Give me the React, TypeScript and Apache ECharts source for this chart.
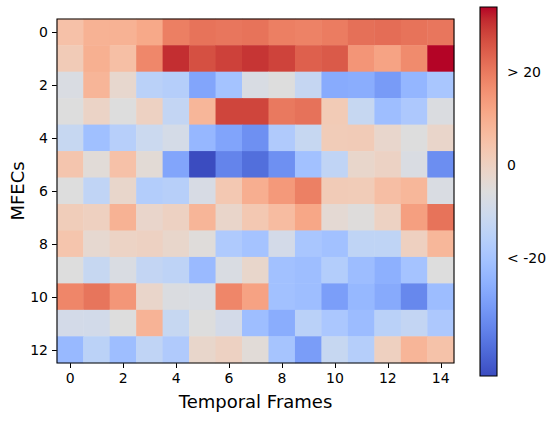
import React, { useEffect, useRef } from "react";
import * as echarts from "echarts";

const FRAME_LABELS = Array.from({ length: 15 }, (_, i) => String(i));
const MFEC_LABELS = Array.from({ length: 13 }, (_, i) => String(i));

const ROW0 = [5, 9, 9, 11, 19, 21, 20.5, 21, 19, 18.5, 19.5, 21.5, 22, 21, 20.5];
const ROW1 = [2, 9.5, 5.5, 17.7, 30.8, 26.5, 28.5, 30, 28.3, 24, 25, 15, 12.2, 17, 33.9];
const ROW2 = [-6.9, 8.2, -2.5, -15.1, -16.3, -27.8, -20.3, -7.2, -5.6, -12.3, -26.6, -26.2, -30.2, -23.8, -19.1];
const ROW3 = [-5.6, -0.9, -5.6, -0.1, -12.8, 8, 28, 28, 20, 21.2, 2.2, -12, -21.5, -18.3, -6.6];
const ROW4 = [-12, -21.1, -15.9, -10.8, -8.4, -23.4, -28.2, -32.5, -17.5, -12, 1.8, 2, -2.1, -5.6, -1.7];
const ROW5 = [3.8, -4.5, 5, -4, -28, -45.2, -34.9, -38.9, -32.5, -20.7, -13.6, -2, -0.5, -6.9, -32.9];
const ROW6 = [-5.6, -13.6, -2, -16.7, -15.8, -7.6, 3, 9.8, 14.4, 18.9, 2, 1.8, 5.8, 7.8, -6.9];
const ROW7 = [1.3, 0.3, 9, -1.9, -0.1, 8.2, -1.8, 3, 6.4, 11.4, -3.6, -5.2, -0.3, 13, 21];
const ROW8 = [4, -3, -0.7, -0.1, -2, -5, -17.8, -20, -8.8, -19.1, -20.7, -13.7, -13.7, 0.3, 7.8];
const ROW9 = [-5.6, -12, -7, -12.8, -14, -22.6, -7, -2, -20.7, -21.5, -16.7, -21.9, -25.4, -20, -5.6];
const ROW10 = [17.8, 20.7, 14.8, -1.8, -6.6, -6.9, 17.8, 12.4, -20.7, -21.5, -29.4, -23.3, -26.8, -34.1, -21.9];
const ROW11 = [-8.8, -9, -5.6, 8.6, -12, -5.6, -8.8, -21.6, -26.2, -15.1, -18.7, -22.1, -15.1, -12.8, -18.3];
const ROW12 = [-23, -14.7, -21.6, -13.6, -17.5, -2, -0.1, -4.5, -19.7, -29.8, -12, -16.3, 0.3, 8.2, 4.8];

const ROWS = [ROW0, ROW1, ROW2, ROW3, ROW4, ROW5, ROW6, ROW7, ROW8, ROW9, ROW10, ROW11, ROW12];

const VMIN = -45.2;
const VMAX = 33.9;
const CB_TICKS = [-20, 0, 20];
const CB_TICK_LABELS: Record<string, string> = { "-20": "< -20", "0": "0", "20": "> 20" };

const COOLWARM = [
  "#3b4cc0", "#445acc", "#4d68d7", "#5775e1", "#6282ea", "#6c8ef1", "#779af7", "#82a5fb",
  "#8db0fe", "#98b9ff", "#a3c2ff", "#aec9fd", "#b8d0f9", "#c2d5f4", "#ccd9ee", "#d5dbe6",
  "#dddddd", "#e5d8d1", "#ecd3c5", "#f1ccb8", "#f5c4ac", "#f7bb9f", "#f7b193", "#f7a686",
  "#f49a7b", "#f18d6f", "#ec7f63", "#e57058", "#de604d", "#d55042", "#cb3e38", "#c0282f",
  "#b40426",
];

const FONT = "DejaVu Sans";

export default function App() {
  const ref = useRef<HTMLDivElement>(null);

  useEffect(() => {
    if (!ref.current) return;
    const chart = echarts.init(ref.current, null, { renderer: "svg" });

    const data: number[][] = [];
    ROWS.forEach((row, r) => row.forEach((v, c) => data.push([c, r, v])));

    const stops = COOLWARM.map((c, i) => ({ offset: 1 - i / (COOLWARM.length - 1), color: c })).reverse();

    const labelStyle = { color: "#000", fontSize: 14, fontFamily: FONT };
    const nameStyle = { color: "#000", fontSize: 18, fontFamily: FONT };
    const evenOnly = (i: number) => i % 2 === 0;

    chart.setOption({
      animation: false,
      backgroundColor: "#fff",
      grid: [
        {
          left: 57, top: 19, width: 397, height: 344,
          containLabel: false, outerBoundsMode: "none",
          show: true, borderColor: "#000", borderWidth: 1.1,
          backgroundColor: "rgba(0,0,0,0)", z: 10,
        },
        { left: 480, top: 7, width: 17, height: 369, containLabel: false, outerBoundsMode: "none" },
      ],
      xAxis: [
        {
          type: "category", gridIndex: 0, data: FRAME_LABELS, position: "bottom",
          axisLine: { show: false },
          axisTick: { show: true, alignWithLabel: true, interval: evenOnly, length: 5, lineStyle: { color: "#000", width: 1 } },
          axisLabel: { ...labelStyle, interval: evenOnly, margin: 8 },
          splitLine: { show: false },
          name: "Temporal Frames", nameLocation: "middle", nameGap: 29, nameMoveOverlap: false,
          nameTextStyle: nameStyle,
        },
        { type: "value", gridIndex: 1, min: 0, max: 1, show: false },
      ],
      yAxis: [
        {
          type: "category", gridIndex: 0, data: MFEC_LABELS, inverse: true,
          axisLine: { show: false },
          axisTick: { show: true, alignWithLabel: true, interval: evenOnly, length: 5, lineStyle: { color: "#000", width: 1 } },
          axisLabel: { ...labelStyle, interval: evenOnly, margin: 9 },
          splitLine: { show: false },
          name: "MFECs", nameLocation: "middle", nameGap: 31, nameMoveOverlap: false,
          nameTextStyle: nameStyle,
        },
        {
          type: "value", gridIndex: 1, min: VMIN, max: VMAX, position: "right",
          axisLine: { show: false },
          axisTick: { show: true, customValues: CB_TICKS, length: 5, lineStyle: { color: "#000", width: 1 } },
          axisLabel: {
            ...labelStyle, customValues: CB_TICKS, margin: 10,
            formatter: (v: number) => CB_TICK_LABELS[String(v)] ?? "",
          },
          splitLine: { show: false },
        },
      ],
      visualMap: {
        show: false, type: "continuous", min: VMIN, max: VMAX, seriesIndex: 0, dimension: 2,
        inRange: { color: COOLWARM },
      },
      series: [
        {
          type: "heatmap", xAxisIndex: 0, yAxisIndex: 0, data,
          itemStyle: { borderWidth: 0 },
          emphasis: { disabled: true },
          progressive: 0,
        },
        {
          type: "custom", xAxisIndex: 1, yAxisIndex: 1, coordinateSystem: "cartesian2d",
          data: [[0, VMIN, 1, VMAX]],
          silent: true, clip: false, z: 5,
          renderItem: (params: any, api: any) => {
            const p0 = api.coord([api.value(0), api.value(3)]);
            const p1 = api.coord([api.value(2), api.value(1)]);
            return {
              type: "rect",
              shape: { x: p0[0], y: p0[1], width: p1[0] - p0[0], height: p1[1] - p0[1] },
              style: {
                fill: new echarts.graphic.LinearGradient(0, 0, 0, 1, stops),
                stroke: "#000",
                lineWidth: 1.1,
              },
            };
          },
        },
      ],
    });

    return () => chart.dispose();
  }, []);

  return (
    <div
      ref={ref}
      style={{ position: "absolute", left: 0, top: 0, width: 559, height: 429 }}
    />
  );
}
